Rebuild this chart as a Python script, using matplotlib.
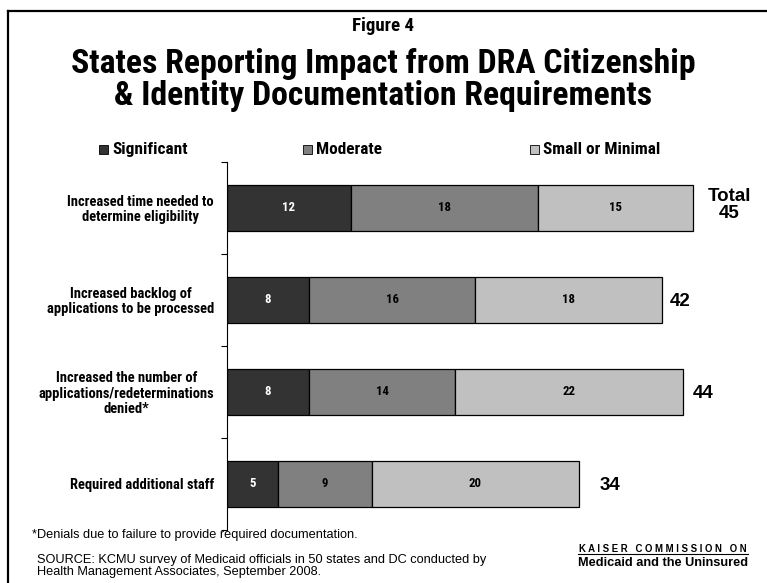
import matplotlib
matplotlib.use("Agg")
import matplotlib.pyplot as plt
from matplotlib import font_manager as fm
from matplotlib.lines import Line2D
from matplotlib.patches import Rectangle
import numpy as np

# data
categories = [
    "Increased time needed to\ndetermine eligibility",
    "Increased backlog of\napplications to be processed",
    "Increased the number of\napplications/redeterminations\ndenied*",
    "Required additional staff",
]
series_names = ["Significant", "Moderate", "Small or Minimal"]
significant = [12, 8, 8, 5]
moderate = [18, 16, 14, 9]
small = [15, 18, 22, 20]
totals = [45, 42, 44, 34]
colors = ["#333333", "#808080", "#c0c0c0"]
text_colors = ["white", "black", "black"]


def pick_family(cands):
    names = {f.name for f in fm.fontManager.ttflist}
    for c in cands:
        if c in names:
            return c
    return "DejaVu Sans"


NARROW = [pick_family(["Liberation Sans Narrow", "Arial Narrow", "Roboto Condensed",
                       "DejaVu Sans Condensed", "Liberation Sans"]), "DejaVu Sans"]
ARIAL = [pick_family(["Liberation Sans", "Arial"]), "DejaVu Sans"]

fig = plt.figure(figsize=(7.67, 5.83), dpi=100)
W, H = 767.0, 583.0
renderer = fig.canvas.get_renderer()


def fx(px):
    return px / W


def fy(py):
    return 1 - py / H


def fit_size(s, width_px, family, weight="bold"):
    # font size that makes s about width_px wide
    t = fig.text(0, 0, s, fontsize=10, family=family, fontweight=weight)
    w = t.get_window_extent(renderer).width
    t.remove()
    return 10 * width_px / w


# outer frame (left and top edges)
fig.add_artist(Line2D([fx(7.5), fx(7.5)], [0, fy(10.5)], color="black", lw=1.6))
fig.add_artist(Line2D([fx(7.5), 1], [fy(10.5), fy(10.5)], color="black", lw=1.6))

ax = fig.add_axes([fx(226.5), fy(529.5), (745 - 226.5) / W, (529.5 - 161.5) / H])

y = np.arange(len(categories))
bar_fs = fit_size("18", 13, NARROW)
left = np.zeros(len(categories))
for vals, name, c, tc in zip([significant, moderate, small], series_names, colors, text_colors):
    vals = np.array(vals)
    ax.barh(y, vals, left=left, height=0.5, color=c, edgecolor="black", linewidth=0.9, label=name)
    for yi, l, v in zip(y, left, vals):
        ax.text(l + v / 2, yi, str(v), ha="center", va="center", color=tc,
                fontsize=bar_fs, fontweight="bold", family=NARROW)
    left = left + vals

# totals to the right of each bar
gaps = [3.5, 1.7, 2.0, 3.0]
for yi, t, g in zip(y, totals, gaps):
    if yi == 0:
        ax.text(t + g, yi - 0.03, "Total\n%d" % t, ha="center", va="center", fontsize=13.5,
                fontweight="bold", family=ARIAL, linespacing=1.0)
    else:
        ax.text(t + g, yi, str(t), ha="center", va="center_baseline", fontsize=13.5,
                fontweight="bold", family=ARIAL)

ax.set_xlim(0, 50)
ax.set_ylim(3.5, -0.5)
ax.set_yticks(y)
cat_fs = fit_size("Increased time needed to", 147, NARROW)
ax.set_yticklabels(categories, fontsize=cat_fs, fontweight="bold", family=NARROW,
                   multialignment="center", linespacing=1.1)
ax.tick_params(axis="y", which="major", length=0, pad=9)
ax.set_yticks([-0.5, 0.5, 1.5, 2.5, 3.5], minor=True)
ax.tick_params(axis="y", which="minor", length=4, width=0.8, direction="out")
ax.set_xticks([])
for s in ["top", "right", "bottom"]:
    ax.spines[s].set_visible(False)
ax.spines["left"].set_linewidth(0.8)

# legend drawn by hand
legend_x = [99, 303, 530]
leg_fs = fit_size("Significant", 75, NARROW)
for name, c, px in zip(series_names, colors, legend_x):
    fig.add_artist(Rectangle((fx(px), fy(154)), 9 / W, 9 / H, facecolor=c,
                             edgecolor="black", linewidth=0.6))
    fig.text(fx(px + 13), fy(149.5), name, ha="left", va="center", fontsize=leg_fs,
             fontweight="bold", family=NARROW)

# titles
fig.text(0.5, fy(26), "Figure 4", ha="center", va="center",
         fontsize=fit_size("Figure 4", 62, NARROW), fontweight="bold", family=NARROW)
title_fs = fit_size("States Reporting Impact from DRA Citizenship", 623, NARROW)
fig.text(0.5, fy(80), "States Reporting Impact from DRA Citizenship\n& Identity Documentation Requirements",
         ha="center", va="center", fontsize=title_fs, fontweight="bold", family=NARROW,
         linespacing=1.02)

# notes
note_fs = fit_size("*Denials due to failure to provide ", 189, ARIAL, "normal")
fig.text(fx(32), fy(535), "*Denials due to failure to provide required documentation.",
         ha="left", va="center", fontsize=note_fs, family=ARIAL)
src_fs = fit_size("SOURCE: KCMU survey of Medicaid ", 213, ARIAL, "normal")
fig.text(fx(37), fy(566), "SOURCE: KCMU survey of Medicaid officials in 50 states and DC conducted by\nHealth Management Associates, September 2008.",
         ha="left", va="center", fontsize=src_fs, family=ARIAL, linespacing=1.0)

fig.text(fx(663), fy(549), "K A I S E R   C O M M I S S I O N   O N", ha="center", va="center",
         fontsize=fit_size("K A I S E R   C O M M I S S I O N   O N", 170, ARIAL),
         fontweight="bold", family=ARIAL)
fig.add_artist(Line2D([fx(578), fx(748)], [fy(554), fy(554)], color="black", lw=0.8))
fig.text(fx(663), fy(563), "Medicaid and the Uninsured", ha="center", va="center",
         fontsize=fit_size("Medicaid and the Uninsured", 170, ARIAL),
         fontweight="bold", family=ARIAL)

fig.savefig("out.png", dpi=100)
